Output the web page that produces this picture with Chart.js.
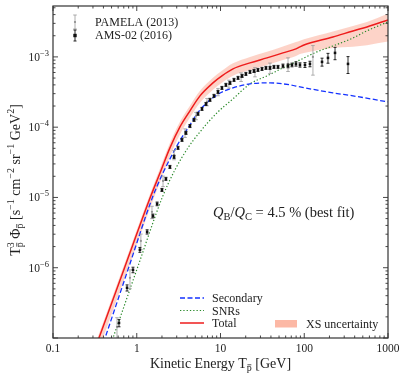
<!DOCTYPE html>
<html>
<head>
<meta charset="utf-8">
<script src="https://cdn.jsdelivr.net/npm/chart.js@4.4.1/dist/chart.umd.min.js"></script>
<style>
  html, body { margin: 0; padding: 0; background: #fff; }
  canvas { display: block; }
</style>
</head>
<body>
<canvas id="chart" width="407" height="379"></canvas>
<script>
// model curves: kinetic energy [GeV] and T^3 flux
const totalT = [0.30, 0.354, 0.715, 1.46, 1.90, 2.49, 3.28, 4.32, 5.69, 8.13, 10.4, 14.1, 22.5, 35.9, 55.7, 79.6, 88.9, 99.3, 220, 382, 561, 1000];
const totalY = [5.96e-8, 1.0e-7, 1.0e-6, 1.02e-5, 2.24e-5, 5.08e-5, 1.01e-4, 1.71e-4, 2.79e-4, 4.27e-4, 5.37e-4, 6.75e-4, 8.22e-4, 9.68e-4, 1.14e-3, 1.30e-3, 1.39e-3, 1.48e-3, 1.92e-3, 2.34e-3, 2.67e-3, 3.36e-3];
const bandHi = [6.85e-8, 1.15e-7, 1.15e-6, 1.17e-5, 2.60e-5, 5.94e-5, 1.19e-4, 2.02e-4, 3.29e-4, 5.04e-4, 6.34e-4, 8.10e-4, 1.00e-3, 1.18e-3, 1.41e-3, 1.63e-3, 1.70e-3, 1.78e-3, 2.30e-3, 2.76e-3, 3.15e-3, 4.10e-3];
const bandLo = [4.17e-8, 7.0e-8, 7.0e-7, 7.34e-6, 1.66e-5, 3.86e-5, 7.88e-5, 1.37e-4, 2.23e-4, 3.42e-4, 4.30e-4, 5.40e-4, 6.49e-4, 7.65e-4, 9.01e-4, 1.03e-3, 1.10e-3, 1.14e-3, 1.34e-3, 1.40e-3, 1.47e-3, 1.65e-3];

const secT = [0.35, 0.418, 0.80, 1.55, 2.06, 3.11, 4.32, 5.69, 9.08, 14.1, 22.5, 39.0, 67.6, 88.9, 220, 382, 1000];
const secY = [5.4e-8, 1.0e-7, 1.0e-6, 1.02e-5, 2.24e-5, 5.78e-5, 1.08e-4, 1.76e-4, 2.88e-4, 3.62e-4, 4.13e-4, 4.27e-4, 4.00e-4, 3.74e-4, 3.08e-4, 2.79e-4, 2.29e-4];

const snrT = [0.40, 0.520, 1.02, 2.03, 2.86, 4.09, 5.69, 9.08, 14.1, 22.5, 35.9, 55.7, 88.9, 142, 220, 382, 561, 1000];
const snrY = [4.2e-8, 1.0e-7, 1.0e-6, 1.02e-5, 2.47e-5, 5.08e-5, 8.57e-5, 1.60e-4, 2.53e-4, 4.13e-4, 5.37e-4, 6.98e-4, 9.06e-4, 1.18e-3, 1.43e-3, 1.86e-3, 2.35e-3, 3.15e-3];

// measurements (relative error bars)
const amsT = [0.614, 0.766, 0.902, 1.09, 1.33, 1.56, 1.75, 2.00, 2.23, 2.49, 2.79, 3.11, 3.47, 3.87, 4.32, 4.83, 5.39, 6.01, 6.71, 7.49, 8.36, 9.33, 10.4, 11.6, 13.0, 14.5, 16.2, 18.1, 20.1, 22.5, 25.1, 28.0, 31.3, 34.9, 39.0, 43.5, 48.6, 55.7, 64.0, 71.4, 79.6, 88.9, 102, 117, 163, 192, 233, 333];
const amsY = [1.64e-7, 5.18e-7, 9.33e-7, 1.80e-6, 3.24e-6, 5.47e-6, 8.11e-6, 1.28e-5, 1.84e-5, 2.72e-5, 3.78e-5, 5.08e-5, 6.60e-5, 8.30e-5, 1.04e-4, 1.27e-4, 1.55e-4, 1.82e-4, 2.14e-4, 2.45e-4, 2.79e-4, 3.18e-4, 3.62e-4, 4.00e-4, 4.27e-4, 4.71e-4, 5.03e-4, 5.37e-4, 5.73e-4, 6.12e-4, 6.32e-4, 6.53e-4, 6.75e-4, 6.98e-4, 6.98e-4, 7.21e-4, 7.21e-4, 7.45e-4, 7.45e-4, 7.69e-4, 7.95e-4, 7.69e-4, 7.69e-4, 7.95e-4, 8.49e-4, 9.68e-4, 1.14e-3, 7.95e-4];
const amsErr = [0.12, 0.10, 0.09, 0.08, 0.07, 0.06, 0.06, 0.05, 0.05, 0.05, 0.05, 0.05, 0.05, 0.05, 0.05, 0.05, 0.05, 0.05, 0.05, 0.05, 0.05, 0.05, 0.05, 0.05, 0.05, 0.05, 0.05, 0.05, 0.05, 0.05, 0.05, 0.05, 0.05, 0.05, 0.05, 0.05, 0.05, 0.06, 0.06, 0.06, 0.07, 0.07, 0.08, 0.09, 0.13, 0.16, 0.20, 0.27];

const pamT = [0.581, 0.830, 1.12, 1.52, 2.06, 2.79, 3.77, 5.10, 6.90, 9.33, 12.6, 17.6, 25.8, 39.0, 64.0, 127];
const pamY = [1.44e-7, 7.18e-7, 2.41e-6, 6.24e-6, 1.72e-5, 4.04e-5, 8.30e-5, 1.45e-4, 2.29e-4, 3.18e-4, 4.13e-4, 5.20e-4, 6.12e-4, 6.98e-4, 7.95e-4, 1.0e-3];
const pamErr = [0.35, 0.30, 0.25, 0.20, 0.17, 0.15, 0.14, 0.12, 0.12, 0.12, 0.13, 0.14, 0.15, 0.17, 0.22, 0.45];

const xTickVals = [0.1, 1, 10, 100, 1000];
const xTickLabels = ['0.1', '1', '10', '100', '1000'];
const yTickVals = [1e-6, 1e-5, 1e-4, 1e-3];
const yTickSup = ['\u22126', '\u22125', '\u22124', '\u22123'];

const SERIF = '"Liberation Serif", "DejaVu Serif", serif';
const TXT = '#222';
const RED = '#ee1c1c';
const BLUE = '#1432ff';
const GREEN = '#2a8a2a';
const BAND = 'rgba(250,140,110,0.38)';

const pts = (xs, ys) => xs.map((x, i) => ({ x, y: ys[i] }));

function drawRich(ctx, segs, x, y, align) {
  const widths = segs.map(s => {
    ctx.font = (s.it ? 'italic ' : '') + s.size + 'px ' + SERIF;
    return ctx.measureText(s.t).width;
  });
  let w = 0;
  segs.forEach((s, i) => { if (!s.stack) w += widths[i]; });
  let cx = align === 'center' ? x - w / 2 : align === 'right' ? x - w : x;
  segs.forEach((s, i) => {
    ctx.font = (s.it ? 'italic ' : '') + s.size + 'px ' + SERIF;
    const ty = y + (s.dy || 0);
    ctx.fillText(s.t, cx, ty);
    if (s.bar) {
      ctx.beginPath();
      ctx.moveTo(cx + widths[i] * 0.12, ty - s.size * 0.62);
      ctx.lineTo(cx + widths[i] * 0.9, ty - s.size * 0.62);
      ctx.lineWidth = 0.8;
      ctx.strokeStyle = ctx.fillStyle;
      ctx.stroke();
    }
    if (!s.stack) cx += widths[i];
  });
}

function errBar(ctx, px, y0, y1, cap) {
  ctx.beginPath();
  ctx.moveTo(px, y0); ctx.lineTo(px, y1);
  ctx.moveTo(px - cap, y0); ctx.lineTo(px + cap, y0);
  ctx.moveTo(px - cap, y1); ctx.lineTo(px + cap, y1);
  ctx.stroke();
}

const decor = {
  id: 'decor',
  afterDatasetDraw(chart, args) {
    const ds = chart.data.datasets[args.index];
    if (!ds.errFrac) return;
    const { ctx, chartArea: a, scales: { x, y } } = chart;
    ctx.save();
    ctx.beginPath(); ctx.rect(a.left, a.top, a.right - a.left, a.bottom - a.top); ctx.clip();
    ctx.strokeStyle = ds.errColor;
    ctx.lineWidth = ds.errWidth;
    ds.data.forEach((p, i) => {
      const px = x.getPixelForValue(p.x);
      const e = ds.errFrac[i];
      errBar(ctx, px, y.getPixelForValue(p.y * (1 + e)), y.getPixelForValue(p.y * (1 - e)), ds.capW);
    });
    ctx.restore();
  },
  afterDraw(chart) {
    const { ctx, chartArea: a, scales: { x, y } } = chart;
    ctx.save();
    // frame
    ctx.strokeStyle = '#333';
    ctx.lineWidth = 1.2;
    ctx.strokeRect(a.left, a.top, a.right - a.left, a.bottom - a.top);
    // inward ticks on all sides
    ctx.lineWidth = 0.9;
    ctx.beginPath();
    for (let e = -1; e <= 3; e++) {
      for (let m = 1; m <= 9; m++) {
        const v = m * Math.pow(10, e);
        if (v > 1000.001) continue;
        const px = x.getPixelForValue(v);
        const len = m === 1 ? 5 : 2.5;
        ctx.moveTo(px, a.bottom); ctx.lineTo(px, a.bottom - len);
        ctx.moveTo(px, a.top); ctx.lineTo(px, a.top + len);
      }
    }
    for (let e = -7; e <= -3; e++) {
      for (let m = 1; m <= 9; m++) {
        const v = m * Math.pow(10, e);
        if (v > y.max) continue;
        const py = y.getPixelForValue(v);
        const len = m === 1 ? 5 : 2.5;
        ctx.moveTo(a.left, py); ctx.lineTo(a.left + len, py);
        ctx.moveTo(a.right, py); ctx.lineTo(a.right - len, py);
      }
    }
    ctx.stroke();

    // tick labels
    ctx.fillStyle = TXT;
    ctx.textBaseline = 'alphabetic';
    ctx.font = '11.5px ' + SERIF;
    ctx.textAlign = 'center';
    xTickVals.forEach((v, i) => ctx.fillText(xTickLabels[i], x.getPixelForValue(v), 352));
    ctx.textAlign = 'left';
    yTickVals.forEach((v, i) => {
      drawRich(ctx, [{ t: '10', size: 11.5 }, { t: yTickSup[i], size: 8.5, dy: -5 }], a.left - 4, y.getPixelForValue(v) + 4, 'right');
    });

    // axis titles
    drawRich(ctx, [{ t: 'Kinetic Energy T', size: 14 }, { t: 'p', size: 10, dy: 3, bar: true }, { t: ' [GeV]', size: 14 }],
      (a.left + a.right) / 2, 368, 'center');
    ctx.save();
    ctx.translate(20, 180);
    ctx.rotate(-Math.PI / 2);
    drawRich(ctx, [
      { t: 'T', size: 14 }, { t: '3', size: 10, dy: -6, stack: true }, { t: 'p', size: 10, dy: 3, bar: true },
      { t: ' \u03A6', size: 14 }, { t: 'p', size: 10, dy: 3, bar: true },
      { t: ' [s', size: 14 }, { t: '\u22121', size: 10, dy: -6 },
      { t: ' cm', size: 14 }, { t: '\u22122', size: 10, dy: -6 },
      { t: ' sr', size: 14 }, { t: '\u22121', size: 10, dy: -6 },
      { t: ' GeV', size: 14 }, { t: '2', size: 10, dy: -6 }, { t: ']', size: 14 }
    ], 0, 0, 'center');
    ctx.restore();

    // annotation
    drawRich(ctx, [
      { t: 'Q', size: 14.5, it: true }, { t: 'B', size: 10.5, dy: 3 }, { t: '/', size: 14.5 },
      { t: 'Q', size: 14.5, it: true }, { t: 'C', size: 10.5, dy: 3 }, { t: ' = 4.5 % (best fit)', size: 14.5 }
    ], 213, 217, 'left');

    // legend: data (top left)
    const dsets = chart.data.datasets;
    const pam = dsets[1], ams = dsets[0];
    ctx.font = '12px ' + SERIF;
    ctx.strokeStyle = pam.errColor; ctx.lineWidth = pam.errWidth;
    errBar(ctx, 75, 15, 29, pam.capW);
    ctx.fillStyle = pam.backgroundColor;
    ctx.beginPath(); ctx.arc(75, 22, 1.1, 0, Math.PI * 2); ctx.fill();
    ctx.strokeStyle = ams.errColor; ctx.lineWidth = ams.errWidth;
    errBar(ctx, 75, 30, 41, ams.capW);
    ctx.fillStyle = ams.backgroundColor;
    ctx.fillRect(73.3, 33.8, 3.4, 3.4);
    ctx.fillStyle = TXT;
    ctx.fillText(pam.label, 95, 26);
    ctx.fillText(ams.label, 95, 39);

    // legend: model (bottom)
    const lines = [dsets[3], dsets[4], dsets[2]];
    lines.forEach((d, i) => {
      const ly = 298 + i * 12.5;
      ctx.strokeStyle = d.borderColor;
      ctx.lineWidth = d.borderWidth;
      ctx.setLineDash(d.borderDash || []);
      ctx.beginPath(); ctx.moveTo(180, ly); ctx.lineTo(204, ly); ctx.stroke();
      ctx.setLineDash([]);
      ctx.fillStyle = TXT;
      ctx.fillText(d.label, 212, ly + 4);
    });
    ctx.fillStyle = 'rgba(250,140,110,0.62)';
    ctx.fillRect(275, 320, 22, 7.5);
    ctx.fillStyle = TXT;
    ctx.fillText(dsets[5].label, 306, 328);
    ctx.restore();
  }
};

const curve = { showLine: true, pointRadius: 0, cubicInterpolationMode: 'monotone', fill: false };

new Chart(document.getElementById('chart'), {
  type: 'scatter',
  data: {
    datasets: [
      { label: 'AMS-02 (2016)', data: pts(amsT, amsY), pointStyle: 'rect', pointRadius: 1.8, borderWidth: 0,
        backgroundColor: '#111', errFrac: amsErr, errColor: '#111', errWidth: 0.9, capW: 1.5 },
      { label: 'PAMELA (2013)', data: pts(pamT, pamY), pointStyle: 'circle', pointRadius: 1.1, borderWidth: 0,
        backgroundColor: '#8a8a8a', errFrac: pamErr, errColor: '#9a9a9a', errWidth: 0.8, capW: 1.8 },
      { ...curve, label: 'Total', data: pts(totalT, totalY), borderColor: RED, borderWidth: 1.5 },
      { ...curve, label: 'Secondary', data: pts(secT, secY), borderColor: BLUE, borderWidth: 1.3, borderDash: [5, 2.5] },
      { ...curve, label: 'SNRs', data: pts(snrT, snrY), borderColor: GREEN, borderWidth: 1.2, borderDash: [1.3, 2] },
      { ...curve, label: 'XS uncertainty', data: pts(totalT, bandHi), borderWidth: 0, borderColor: 'transparent',
        backgroundColor: BAND, fill: '+1' },
      { ...curve, label: '', data: pts(totalT, bandLo), borderWidth: 0, borderColor: 'transparent' }
    ]
  },
  options: {
    responsive: false,
    animation: false,
    events: [],
    layout: { padding: { left: 53, right: 19, top: 6, bottom: 41 } },
    scales: {
      x: { type: 'logarithmic', min: 0.1, max: 1000, display: false },
      y: { type: 'logarithmic', min: 1e-7, max: 5.3e-3, display: false }
    },
    plugins: { legend: { display: false }, tooltip: { enabled: false } }
  },
  plugins: [decor]
});
</script>
</body>
</html>
